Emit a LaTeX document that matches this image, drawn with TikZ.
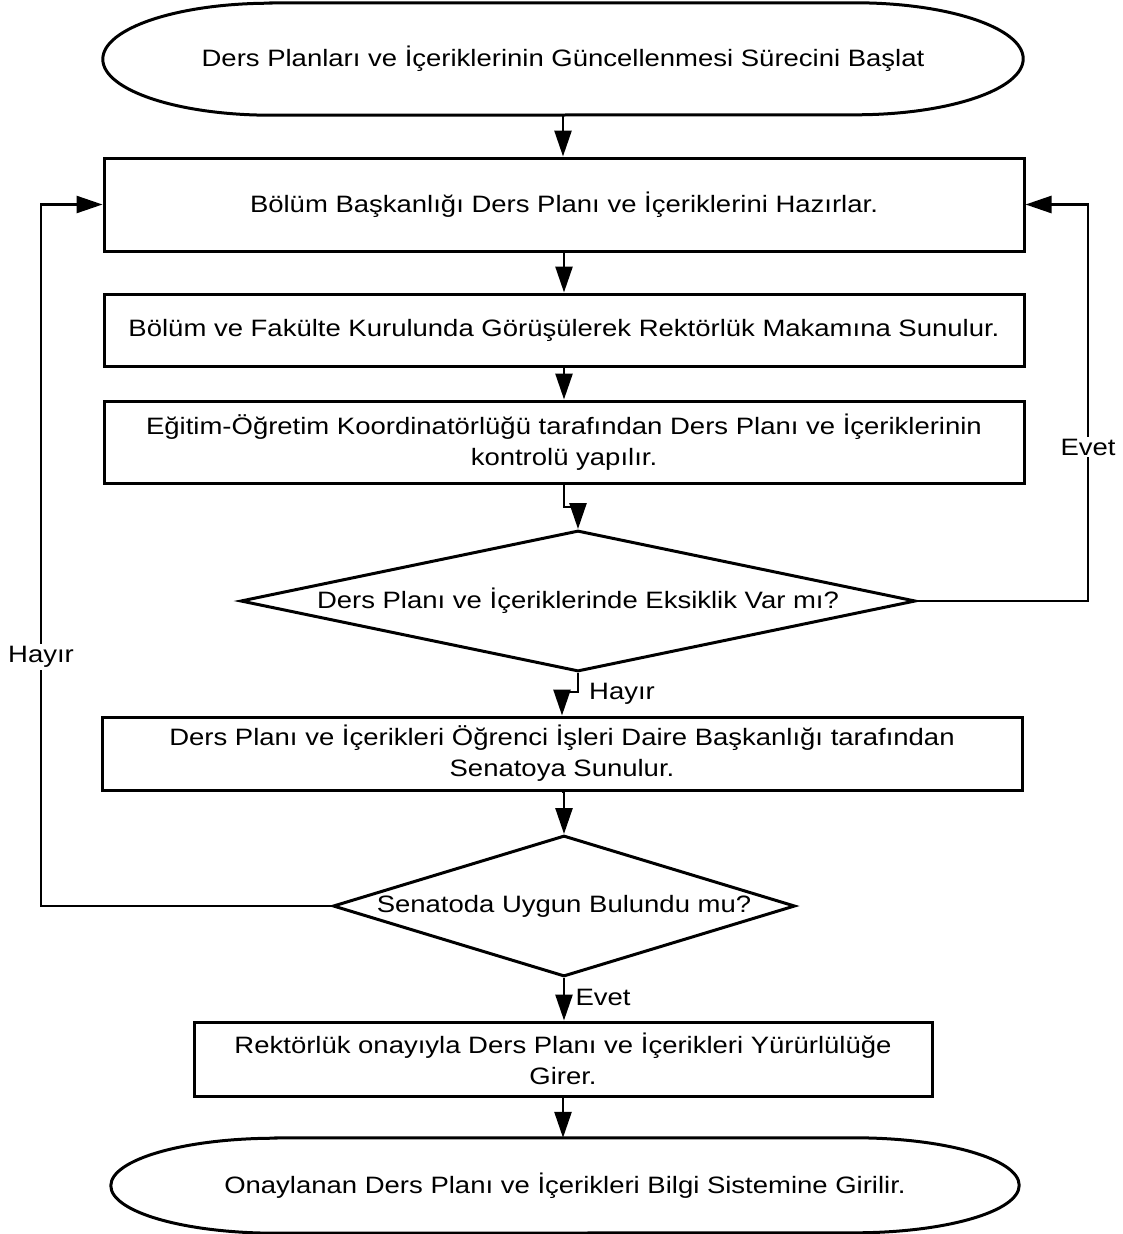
\documentclass[tikz,border=0pt]{standalone}
\usepackage{fontspec}
\setmainfont{Liberation Sans}[FakeStretch=1.16]
\usetikzlibrary{arrows.meta,shapes.geometric}
\begin{document}
\begin{tikzpicture}[x=1pt,y=-1pt,
  font=\fontsize{23.7}{31}\selectfont,
  procbox/.style={draw,line width=3pt,align=center,inner sep=0pt},
  decision/.style={draw,diamond,line width=3pt,inner sep=0pt,align=center},
  terminal/.style={inner sep=0pt,align=center},
  outline/.style={line width=3pt},
  conn/.style={line width=2.6pt,-{Triangle[length=26pt,width=17pt]}},
  lbl/.style={fill=white,inner sep=2pt}]
\useasboundingbox[fill=white] (0,0) rectangle (1122,1234);

% nodes
\node[terminal,minimum width=920pt,minimum height=112pt] (start) at (563,59)
  {Ders Planları ve İçeriklerinin Güncellenmesi Sürecini Başlat};
\draw[outline] ([xshift=168pt]start.north west) -- ([xshift=-168pt]start.north east)
  arc[start angle=90,end angle=-90,x radius=168pt,y radius=56pt]
  -- ([xshift=168pt]start.south west)
  arc[start angle=270,end angle=90,x radius=168pt,y radius=56pt] -- cycle;

\node[procbox,minimum width=920pt,minimum height=93pt] (b1) at (564,204.5)
  {Bölüm Başkanlığı Ders Planı ve İçeriklerini Hazırlar.};
\node[procbox,minimum width=920pt,minimum height=72pt] (b2) at (564,330)
  {Bölüm ve Fakülte Kurulunda Görüşülerek Rektörlük Makamına Sunulur.};
\node[procbox,minimum width=920pt,minimum height=82pt] (b3) at (564,442)
  {Eğitim-Öğretim Koordinatörlüğü tarafından Ders Planı ve İçeriklerinin\\kontrolü yapılır.};
\node[decision,aspect=4.79,minimum width=675pt,minimum height=141pt] (d1) at (578,601)
  {Ders Planı ve İçeriklerinde Eksiklik Var mı?};
\node[procbox,minimum width=920pt,minimum height=73pt] (b4) at (562,753.5)
  {Ders Planı ve İçerikleri Öğrenci İşleri Daire Başkanlığı tarafından\\Senatoya Sunulur.};
\node[decision,aspect=3.28,minimum width=462pt,minimum height=141pt] (d2) at (564,906)
  {Senatoda Uygun Bulundu mu?};
\node[procbox,minimum width=738pt,minimum height=74pt] (b5) at (563,1059)
  {Rektörlük onayıyla Ders Planı ve İçerikleri Yürürlülüğe\\Girer.};
\node[terminal,minimum width=908pt,minimum height=95pt] (end) at (565,1185.5)
  {Onaylanan Ders Planı ve İçerikleri Bilgi Sistemine Girilir.};
\draw[outline] ([xshift=165pt]end.north west) -- ([xshift=-165pt]end.north east)
  arc[start angle=90,end angle=-90,x radius=165pt,y radius=47.5pt]
  -- ([xshift=165pt]end.south west)
  arc[start angle=270,end angle=90,x radius=165pt,y radius=47.5pt] -- cycle;

% connectors
\draw[conn] (start.south) -- (start.south |- b1.north);
\draw[conn] (b1.south) -- (b2.north);
\draw[conn] (b2.south) -- (b3.north);
\coordinate (j1) at (565,507);
\draw[conn] (b3.south) -- (b3.south |- j1) -| (d1.north);
\coordinate (j2) at (578,692);
\draw[conn] (d1.south) -- (d1.south |- j2) -| (b4.north);
\draw[conn] (b4.south) -- (b4.south -| d2.north) -- (d2.north);
\draw[conn] (d2.south) -- (d2.south |- b5.north);
\draw[conn] (b5.south) -- (b5.south |- end.north);

\coordinate (rt) at (1088,601);
\draw[conn] (d1.east) -- (rt) |- (b1.east);
\coordinate (lt) at (41,906);
\draw[conn] (d2.west) -- (lt) |- (b1.west);

% labels
\node[lbl] (levet1) at (1088,447) {Evet};
\node[lbl] (lhayir1) at (41,657) {Hayır};
\node[inner sep=0pt] (lhayir2) at (622,694) {Hayır};
\node[inner sep=0pt] (levet2) at (603,997) {Evet};
\end{tikzpicture}
\end{document}
